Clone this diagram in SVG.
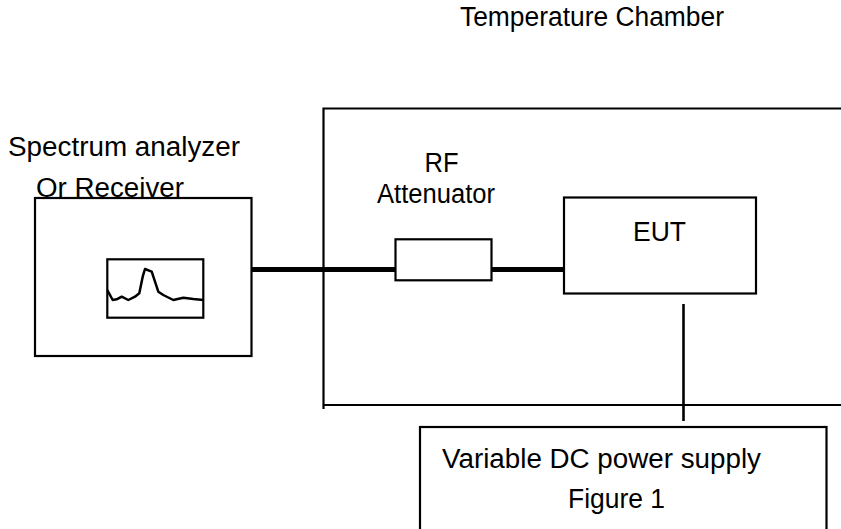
<svg xmlns="http://www.w3.org/2000/svg" width="841" height="529" viewBox="0 0 841 529">
<style>
.t{font-family:"Liberation Sans",Arial,sans-serif;font-size:27px;fill:#000}
.box{fill:#fff;stroke:#000;stroke-width:2.2}
.ln{fill:none;stroke:#000;stroke-width:2.2}
.trace{fill:none;stroke:#000;stroke-width:2.5;stroke-linejoin:round}
.thick{fill:none;stroke:#000;stroke-width:5}
</style>
<rect width="841" height="529" fill="#fff"/>
<g id="chamber">
<path class="ln" d="M841,108.5 H323.5 V409 M323.5,405 H841"/>
<text class="t" x="460" y="25.5" textLength="264" lengthAdjust="spacingAndGlyphs">Temperature Chamber</text>
</g>
<g id="connectors">
<path class="thick" d="M252,269.5 H396"/>
<path class="thick" d="M491,269.5 H564"/>
<path class="ln" style="stroke-width:2.6" d="M683.5,304 V421"/>
</g>
<g id="analyzer">
<rect class="box" x="35" y="198" width="216.5" height="158"/>
<rect class="box" x="107.3" y="259.3" width="96" height="58.4"/>
<path class="trace" d="M107.3,290 L112.7,300 L116.7,299.3 L121.7,296.7 L128.3,300 L135,296.7 L139.3,293.3 L142.7,276.7 L145,269 L151.7,271.7 L155,281.7 L158.3,291.7 L163.3,295 L173.3,300 L183.3,297.7 L193.3,299 L203.3,300"/>
<text class="t" x="8" y="156" textLength="232" lengthAdjust="spacingAndGlyphs">Spectrum analyzer</text>
<text class="t" x="36" y="197" textLength="148" lengthAdjust="spacingAndGlyphs">Or Receiver</text>
</g>
<g id="attenuator">
<rect class="box" x="395.5" y="239.3" width="96" height="41"/>
<text class="t" x="424.5" y="171.7" textLength="34" lengthAdjust="spacingAndGlyphs">RF</text>
<text class="t" x="377" y="202.7" textLength="118" lengthAdjust="spacingAndGlyphs">Attenuator</text>
</g>
<g id="eut">
<rect class="box" x="564" y="197.5" width="192" height="96"/>
<text class="t" x="633" y="240.5" textLength="53" lengthAdjust="spacingAndGlyphs">EUT</text>
</g>
<g id="power">
<rect class="box" x="420" y="427" width="406.5" height="120"/>
<text class="t" x="442" y="468.3" textLength="319" lengthAdjust="spacingAndGlyphs">Variable DC power supply</text>
<text class="t" x="568" y="508.3" textLength="97" lengthAdjust="spacingAndGlyphs">Figure 1</text>
</g>
</svg>
